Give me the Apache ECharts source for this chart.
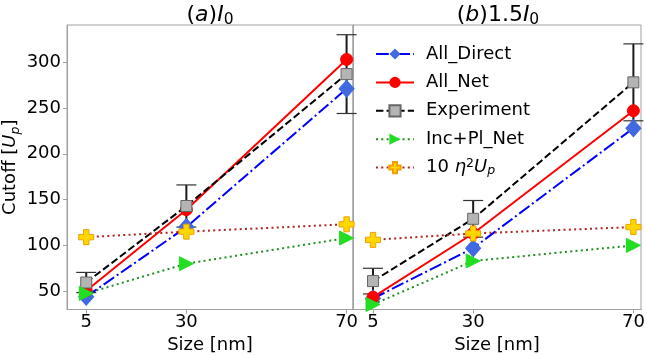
<!DOCTYPE html>
<html>
<head>
<meta charset="utf-8">
<script src="https://cdn.jsdelivr.net/npm/echarts@6/dist/echarts.min.js"></script>
<style>html,body{margin:0;padding:0;background:#fff}#c{width:647px;height:355px}</style>
</head>
<body>
<div id="c"></div>
<script>
// ---- data ----
const sizes = [5, 30, 70];
const xTicks = [5, 30, 70];
const yTicks = [50, 100, 150, 200, 250, 300];
const seriesNames = ['All_Direct', 'All_Net', 'Experiment', 'Inc+Pl_Net', '10 η²Up'];
// panel (a) I0
const aDirect = [44, 120, 271];
const aNet = [50.5, 139, 303];
const aExp = [59.5, 143, 287];
const aExpErr = [11, 23, 43];
const aIncPl = [47.5, 80, 108];
const aEta = [109, 115, 123];
// panel (b) 1.5 I0
const bDirect = [42, 97, 228];
const bNet = [43.5, 113, 247];
const bExp = [61, 129, 278];
const bExpErr = [14, 20, 42];
const bIncPl = [35.5, 83, 100];
const bEta = [106, 113, 120];

const FONT = 'DejaVu Sans';
const FS = 18;
const frame = '#a0a0a0';
const pts = arr => sizes.map((x, i) => [x, arr[i]]);

const plusPath = 'path://M3.2,0 H6.8 V3.2 H10 V6.8 H6.8 V10 H3.2 V6.8 H0 V3.2 H3.2 Z';
const triPath = 'path://M0,0 L10,5 L0,10 Z';

function errSeries(idx, vals, errs) {
  return {
    type: 'custom', name: 'Experiment_err', xAxisIndex: idx, yAxisIndex: idx, z: 2,
    data: sizes.map((x, i) => [x, vals[i], errs[i]]),
    renderItem: function (params, api) {
      const x = api.value(0), y = api.value(1), e = api.value(2);
      const t = api.coord([x, y + e]);
      const b = api.coord([x, y - e]);
      const cw = 10;
      return { type: 'group', children: [
        { type: 'line', shape: { x1: t[0], y1: t[1], x2: b[0], y2: b[1] }, style: { stroke: '#1a1a1a', lineWidth: 2 } },
        { type: 'line', shape: { x1: t[0] - cw, y1: t[1], x2: t[0] + cw, y2: t[1] }, style: { stroke: '#333', lineWidth: 1.2 } },
        { type: 'line', shape: { x1: b[0] - cw, y1: b[1], x2: b[0] + cw, y2: b[1] }, style: { stroke: '#333', lineWidth: 1.2 } }
      ] };
    }
  };
}

function panelSeries(idx, d) {
  return [
    errSeries(idx, d.exp, d.err),
    { name: seriesNames[0], type: 'line', xAxisIndex: idx, yAxisIndex: idx, data: pts(d.direct), z: 3,
      symbol: 'diamond', symbolSize: [15, 17], itemStyle: { color: '#4169e1', borderColor: '#4169e1' },
      lineStyle: { color: '#0000ff', width: 2, type: [12.8, 3.2, 2, 3.2] } },
    { name: seriesNames[1], type: 'line', xAxisIndex: idx, yAxisIndex: idx, data: pts(d.net), z: 4,
      symbol: 'circle', symbolSize: 12, itemStyle: { color: '#ff0000', borderColor: '#ff0000' },
      lineStyle: { color: '#ff0000', width: 2, type: 'solid' } },
    { name: seriesNames[2], type: 'line', xAxisIndex: idx, yAxisIndex: idx, data: pts(d.exp), z: 5,
      symbol: 'rect', symbolSize: 11, itemStyle: { color: '#b4b4b4', borderColor: '#666', borderWidth: 1 },
      lineStyle: { color: '#000', width: 2, type: [7.4, 3.2] } },
    { name: seriesNames[3], type: 'line', xAxisIndex: idx, yAxisIndex: idx, data: pts(d.inc), z: 6,
      symbol: triPath, symbolSize: [14, 14], itemStyle: { color: '#22dd22', borderColor: '#22dd22' },
      lineStyle: { color: '#1f8f1f', width: 2, type: [2, 3.3] } },
    { name: seriesNames[4], type: 'line', xAxisIndex: idx, yAxisIndex: idx, data: pts(d.eta), z: 7,
      symbol: plusPath, symbolSize: 15, itemStyle: { color: '#ffd700', borderColor: '#f0a000', borderWidth: 1 },
      lineStyle: { color: '#b22222', width: 2, type: [2, 3.3] } }
  ];
}

const axisLabelCommon = { fontFamily: FONT, fontSize: FS, color: '#000' };

function xAxis(idx, min, max) {
  return {
    type: 'value', gridIndex: idx, min: min, max: max,
    name: 'Size [nm]', nameLocation: 'middle', nameGap: 24,
    nameTextStyle: { fontFamily: FONT, fontSize: FS, color: '#000' },
    axisLine: { show: true, lineStyle: { color: frame } },
    axisTick: { show: true, length: 4, lineStyle: { color: frame }, customValues: xTicks },
    axisLabel: Object.assign({ margin: 4, customValues: xTicks }, axisLabelCommon),
    splitLine: { show: false }
  };
}

function yAxis(idx, showLabels) {
  const o = {
    type: 'value', gridIndex: idx, min: 30, max: 340.6,
    axisLine: { show: true, lineStyle: { color: frame } },
    axisTick: { show: showLabels, length: 4, lineStyle: { color: frame }, customValues: yTicks },
    axisLabel: Object.assign({ show: showLabels, margin: 6, customValues: yTicks }, axisLabelCommon),
    splitLine: { show: false }
  };
  if (showLabels) {
    o.name = 'Cutoff [{i|U}{sub|p}]';
    o.nameLocation = 'middle';
    o.nameRotate = 90;
    o.nameGap = 45;
    o.nameTextStyle = { fontFamily: FONT, fontSize: FS, color: '#000', lineHeight: 24,
      rich: { i: { fontStyle: 'italic', fontSize: FS, lineHeight: 24 },
              sub: { fontSize: 12.5, fontStyle: 'italic', verticalAlign: 'bottom', lineHeight: 14 } } };
  }
  return o;
}

const chart = echarts.init(document.getElementById('c'), null, { renderer: 'canvas' });
const titleRich = {
  n: { fontSize: 22, lineHeight: 26, fontFamily: FONT, fill: '#000' },
  i: { fontSize: 22, lineHeight: 26, fontStyle: 'italic', fontFamily: FONT, fill: '#000' },
  sub: { fontSize: 15.5, lineHeight: 15, verticalAlign: 'bottom', fontFamily: FONT, fill: '#000' }
};
chart.setOption({
  animation: false,
  backgroundColor: '#fff',
  textStyle: { fontFamily: FONT },
  graphic: [
    { type: 'text', x: 210, y: 15, style: { text: '{n|(}{i|a}{n|)}{i|I}{sub|0}', rich: titleRich, fill: '#000', align: 'center', verticalAlign: 'middle' } },
    { type: 'text', x: 498, y: 15, style: { text: '{n|(}{i|b}{n|)1.5}{i|I}{sub|0}', rich: titleRich, fill: '#000', align: 'center', verticalAlign: 'middle' } }
  ],
  legend: {
    show: true, orient: 'vertical', left: 370, top: 39,
    itemWidth: 38, itemHeight: 14, itemGap: 8.4,
    data: seriesNames,
    textStyle: { fontFamily: FONT, fontSize: FS, color: '#000', lineHeight: 20, padding: [0, 0, 0, 7],
      rich: { n: { fontSize: FS, lineHeight: 20 }, i: { fontSize: FS, fontStyle: 'italic', lineHeight: 20 },
        sub: { fontSize: 12.5, fontStyle: 'italic', verticalAlign: 'bottom', lineHeight: 12 },
        sup: { fontSize: 12.5, verticalAlign: 'top', lineHeight: 12 } } },
    formatter: function (name) {
      if (name === '10 η²Up') return '{n|10 }{i|η}{sup|2}{i|U}{sub|p}';
      return name;
    }
  },
  grid: [
    { left: 67, top: 25, width: 286, height: 284.5, show: true, borderColor: frame, borderWidth: 1, backgroundColor: 'transparent', outerBoundsMode: 'none', containLabel: false },
    { left: 353, top: 25, width: 288, height: 284.5, show: true, borderColor: frame, borderWidth: 1, backgroundColor: 'transparent', outerBoundsMode: 'none', containLabel: false }
  ],
  xAxis: [xAxis(0, 0.2, 71.6), xAxis(1, 0, 71.9)],
  yAxis: [yAxis(0, true), yAxis(1, false)],
  series: [].concat(
    panelSeries(0, { direct: aDirect, net: aNet, exp: aExp, err: aExpErr, inc: aIncPl, eta: aEta }),
    panelSeries(1, { direct: bDirect, net: bNet, exp: bExp, err: bExpErr, inc: bIncPl, eta: bEta })
  )
});
</script>
</body>
</html>
